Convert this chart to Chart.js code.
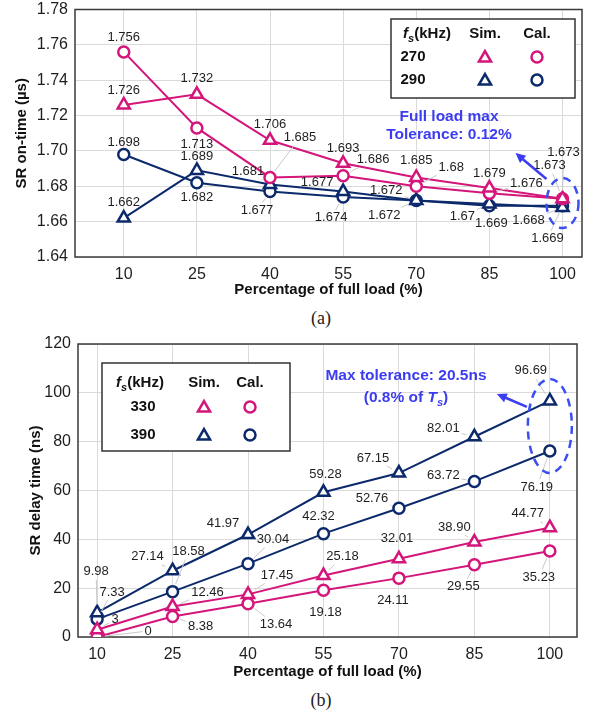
<!DOCTYPE html>
<html>
<head>
<meta charset="utf-8">
<script src="https://cdn.jsdelivr.net/npm/chart.js@4.4.0/dist/chart.umd.min.js"></script>
<style>
  body { margin: 0; background: #fff; width: 597px; height: 715px; position: relative; overflow: hidden; }
  canvas { position: absolute; left: 0; }
  .cap { position: absolute; left: 0; width: 642px; text-align: center; line-height: 20px;
         font: 18px "Liberation Serif", "Times New Roman", serif; color: #222; }
</style>
</head>
<body>
<canvas id="onTime" width="597" height="300" style="top:0"></canvas>
<div class="cap" style="top:308px">(a)</div>
<canvas id="delay" width="597" height="355" style="top:330px"></canvas>
<div class="cap" style="top:690px">(b)</div>

<script>
const FAMILY = '"Liberation Sans", Arial, sans-serif';
const magenta = '#d4157a';
const navy = '#0c2a6b';
const noteBlue = '#3c3cf0';

// load points shared by both plots
const loadPct = [10, 25, 40, 55, 70, 85, 100];

// (a) SR on-time in µs
const onTimeTicks = [1.64, 1.66, 1.68, 1.70, 1.72, 1.74, 1.76, 1.78];
const onSim270 = [1.726, 1.732, 1.706, 1.693, 1.685, 1.679, 1.673];
const onCal270 = [1.756, 1.713, 1.685, 1.686, 1.68, 1.676, 1.673];
const onSim290 = [1.662, 1.689, 1.681, 1.677, 1.672, 1.67, 1.668];
const onCal290 = [1.698, 1.682, 1.677, 1.674, 1.672, 1.669, 1.669];

// (b) SR delay time in ns
const delayTicks = [0, 20, 40, 60, 80, 100, 120];
const dlSim330 = [3, 12.46, 17.45, 25.18, 32.01, 38.90, 44.77];
const dlCal330 = [0, 8.38, 13.64, 19.18, 24.11, 29.55, 35.23];
const dlSim390 = [9.98, 27.14, 41.97, 59.28, 67.15, 82.01, 96.69];
const dlCal390 = [7.33, 18.58, 30.04, 42.32, 52.76, 63.72, 76.19];

// value label placement relative to each marker, px
const offSim270 = [[0,-15],[0,-16],[0,-16],[0,-15],[0,-17],[0,-15],[1,-46]];
const offCal270 = [[0,-15],[0,16],[30,-40],[30,-16],[35,-19],[37,-10],[-13,-33]];
const offSim290 = [[0,-16],[0,-14],[-22,-13],[-26,-9],[-30,-10],[-27,12],[-34,13]];
const offCal290 = [[0,-12],[0,15],[-13,19],[-12,21],[-32,15],[2,18],[-15,33]];

const offSim330 = [[18,-10],[35,-14],[29,-19],[19,-19],[-2,-20],[-20,-15],[-22,-14]];
const offCal330 = [[51,-6],[28,10],[28,21],[2,22],[-6,22],[-11,22],[-11,26]];
const offSim390 = [[-1,-41],[-25,-14],[-25,-11],[2,-18],[-26,-15],[-31,-8],[-19,-30]];
const offCal390 = [[15,-27],[16,-40],[25,-24],[-5,-17],[-27,-10],[-31,-6],[-13,36]];

const fmtOnTime = v => String(v);
const fmtDelay = v => Number.isInteger(v) ? String(v) : v.toFixed(2);

function series(label, values, color, style, offsets, fmt) {
  return {
    label,
    data: loadPct.map((x, i) => ({ x, y: values[i] })),
    borderColor: color,
    borderWidth: 2,
    pointStyle: style,
    pointRadius: style === 'triangle' ? 7 : 5.5,
    pointBorderWidth: 2.5,
    pointBorderColor: color,
    pointBackgroundColor: '#fff',
    labelOffsets: offsets,
    labelFormat: fmt
  };
}

function drawMarker(ctx, style, x, y, color) {
  ctx.beginPath();
  if (style === 'triangle') {
    const r = 7;
    let a = 0;
    ctx.moveTo(x + Math.sin(a) * r, y - Math.cos(a) * r);
    a += Math.PI * 2 / 3;
    ctx.lineTo(x + Math.sin(a) * r, y - Math.cos(a) * r);
    a += Math.PI * 2 / 3;
    ctx.lineTo(x + Math.sin(a) * r, y - Math.cos(a) * r);
    ctx.closePath();
  } else {
    ctx.arc(x, y, 5.5, 0, Math.PI * 2);
  }
  ctx.fillStyle = '#fff';
  ctx.fill();
  ctx.strokeStyle = color;
  ctx.lineWidth = 2.5;
  ctx.stroke();
}

// text made of runs: plain, italic, italic subscript
function drawRich(ctx, parts, cx, cy, size, color) {
  const fontOf = p => (p.i || p.sub ? 'italic ' : '') + 'bold ' + (p.sub ? Math.round(size * 0.72) : size) + 'px ' + FAMILY;
  const widths = parts.map(p => { ctx.font = fontOf(p); return ctx.measureText(p.t).width; });
  let x = cx - widths.reduce((a, b) => a + b, 0) / 2;
  ctx.textAlign = 'left';
  ctx.textBaseline = 'middle';
  ctx.fillStyle = color;
  parts.forEach((p, k) => {
    ctx.font = fontOf(p);
    ctx.fillText(p.t, x, cy + (p.sub ? size * 0.3 : 0));
    x += widths[k];
  });
}

function drawArrow(ctx, x1, y1, x2, y2, color) {
  const ang = Math.atan2(y2 - y1, x2 - x1), head = 11;
  ctx.strokeStyle = color;
  ctx.lineWidth = 2.5;
  ctx.beginPath();
  ctx.moveTo(x1, y1);
  ctx.lineTo(x2 - Math.cos(ang) * head * 0.7, y2 - Math.sin(ang) * head * 0.7);
  ctx.stroke();
  ctx.beginPath();
  ctx.moveTo(x2, y2);
  ctx.lineTo(x2 - head * Math.cos(ang - 0.45), y2 - head * Math.sin(ang - 0.45));
  ctx.lineTo(x2 - head * Math.cos(ang + 0.45), y2 - head * Math.sin(ang + 0.45));
  ctx.closePath();
  ctx.fillStyle = color;
  ctx.fill();
}

// box around the plotting area
const plotFrame = {
  id: 'plotFrame',
  beforeDatasetsDraw(chart) {
    const { ctx, chartArea: a } = chart;
    ctx.save();
    ctx.strokeStyle = '#3a3a3a';
    ctx.lineWidth = 1.5;
    ctx.strokeRect(a.left, a.top, a.right - a.left, a.bottom - a.top);
    ctx.restore();
  }
};

// numbers next to every marker, with a thin leader line when set apart
const valueLabels = {
  id: 'valueLabels',
  afterDatasetsDraw(chart) {
    const ctx = chart.ctx;
    ctx.save();
    ctx.font = '13px ' + FAMILY;
    ctx.textAlign = 'center';
    ctx.textBaseline = 'middle';
    chart.data.datasets.forEach((ds, di) => {
      chart.getDatasetMeta(di).data.forEach((pt, i) => {
        const [dx, dy] = ds.labelOffsets[i];
        const text = ds.labelFormat(ds.data[i].y);
        const lx = pt.x + dx, ly = pt.y + dy;
        const dist = Math.hypot(dx, dy);
        if (Math.abs(dx) > 10 || dist > 26) {
          const hw = ctx.measureText(text).width / 2 + 2, hh = 8;
          const t = Math.min(dx ? hw / Math.abs(dx) : Infinity, dy ? hh / Math.abs(dy) : Infinity);
          const len = (1 - t) * dist;
          if (len > 8) {
            ctx.beginPath();
            ctx.moveTo(pt.x + dx / dist * 8, pt.y + dy / dist * 8);
            ctx.lineTo(lx - dx * t, ly - dy * t);
            ctx.strokeStyle = '#c8c8c8';
            ctx.lineWidth = 1;
            ctx.stroke();
          }
        }
        ctx.fillStyle = '#1e1e1e';
        ctx.fillText(text, lx, ly);
      });
    });
    ctx.restore();
  }
};

// frequency / marker key plus the tolerance call-out
function notesPlugin(cfg) {
  return {
    id: 'notes',
    afterDraw(chart) {
      const ctx = chart.ctx;
      const [x0, y0, x1, y1] = cfg.box;
      ctx.save();
      ctx.fillStyle = '#fff';
      ctx.fillRect(x0, y0, x1 - x0, y1 - y0);
      ctx.strokeStyle = '#333';
      ctx.lineWidth = 1.5;
      ctx.strokeRect(x0, y0, x1 - x0, y1 - y0);

      drawRich(ctx, [{ t: 'f', i: true }, { t: 's', sub: true }, { t: '(kHz)' }], cfg.colX[0], cfg.head, 15, '#111');
      drawRich(ctx, [{ t: 'Sim.' }], cfg.colX[1], cfg.head, 15, '#111');
      drawRich(ctx, [{ t: 'Cal.' }], cfg.colX[2], cfg.head, 15, '#111');
      cfg.freqs.forEach((f, k) => {
        const y = cfg.rows[k];
        const c = k === 0 ? magenta : navy;
        drawRich(ctx, [{ t: f }], cfg.numX, y, 15, '#111');
        drawMarker(ctx, 'triangle', cfg.colX[1], y + 1, c);
        drawMarker(ctx, 'circle', cfg.colX[2], y, c);
      });

      // dashed ring round the full-load points
      const xs = chart.scales.x, ys = chart.scales.y;
      const cx = xs.getPixelForValue(100);
      const cy = ys.getPixelForValue((cfg.ringLo + cfg.ringHi) / 2);
      ctx.beginPath();
      ctx.ellipse(cx, cy, cfg.ring[0], cfg.ring[1], 0, 0, Math.PI * 2);
      ctx.setLineDash([8, 6]);
      ctx.strokeStyle = '#3a4ef2';
      ctx.lineWidth = 2.5;
      ctx.stroke();
      ctx.setLineDash([]);

      drawArrow(ctx, cx + cfg.arrow[0], cy + cfg.arrow[1], cx + cfg.arrow[2], cy + cfg.arrow[3], noteBlue);
      cfg.note.forEach(line => drawRich(ctx, line.parts, cfg.noteX, line.y, 15.5, noteBlue));
      ctx.restore();
    }
  };
}

function axes(o) {
  const tickFont = { size: 16, family: FAMILY };
  const titleFont = { size: 15, weight: 'bold', family: FAMILY };
  return {
    x: {
      type: 'linear', min: o.xMin, max: o.xMax,
      afterBuildTicks: s => { s.ticks = loadPct.map(v => ({ value: v })); },
      afterFit: s => { s.height = o.xHeight; s.paddingLeft = 0; s.paddingRight = 0; },
      grid: { color: '#dadada', drawTicks: false },
      border: { display: false },
      ticks: { padding: 8, color: '#1e1e1e', font: tickFont, callback: v => String(v) },
      title: { display: true, text: 'Percentage of full load (%)', color: '#111', font: titleFont, padding: { top: 0, bottom: o.xTitlePad } }
    },
    y: {
      min: o.yTicks[0], max: o.yTicks[o.yTicks.length - 1],
      afterBuildTicks: s => { s.ticks = o.yTicks.map(v => ({ value: v })); },
      afterFit: s => { s.width = o.yWidth; s.paddingTop = 0; s.paddingBottom = 0; },
      grid: { color: '#dadada', drawTicks: false },
      border: { display: false },
      ticks: { padding: 7, color: '#1e1e1e', font: tickFont, callback: o.yFmt },
      title: { display: true, text: o.yTitle, color: '#111', font: titleFont, padding: { top: o.yTitlePad, bottom: 0 } }
    }
  };
}

function baseOptions(o) {
  return {
    responsive: false,
    animation: false,
    layout: { padding: { top: o.top, right: o.right, left: 0, bottom: 0 } },
    plugins: { legend: { display: false }, tooltip: { enabled: false } },
    scales: axes(o)
  };
}

new Chart(document.getElementById('onTime'), {
  type: 'line',
  data: {
    datasets: [
      series('270 Sim.', onSim270, magenta, 'triangle', offSim270, fmtOnTime),
      series('270 Cal.', onCal270, magenta, 'circle', offCal270, fmtOnTime),
      series('290 Sim.', onSim290, navy, 'triangle', offSim290, fmtOnTime),
      series('290 Cal.', onCal290, navy, 'circle', offCal290, fmtOnTime)
    ]
  },
  options: baseOptions({
    top: 7, right: 15, xMin: 0, xMax: 104, xHeight: 43, xTitlePad: 1,
    yTicks: onTimeTicks, yWidth: 75, yTitlePad: 13, yTitle: 'SR on-time (µs)',
    yFmt: v => v.toFixed(2)
  }),
  plugins: [plotFrame, valueLabels, notesPlugin({
    box: [391, 19, 575, 98], head: 34, rows: [57, 80], colX: [427, 485, 537], numX: 413,
    freqs: ['270', '290'],
    ringLo: Math.min(onSim290[6], onCal290[6]), ringHi: Math.max(onSim270[6], onCal270[6]),
    ring: [16, 25], arrow: [-16, -24, -47, -50],
    noteX: 449,
    note: [
      { y: 117, parts: [{ t: 'Full load max' }] },
      { y: 135, parts: [{ t: 'Tolerance: 0.12%' }] }
    ]
  })]
});

new Chart(document.getElementById('delay'), {
  type: 'line',
  data: {
    datasets: [
      series('330 Sim.', dlSim330, magenta, 'triangle', offSim330, fmtDelay),
      series('330 Cal.', dlCal330, magenta, 'circle', offCal330, fmtDelay),
      series('390 Sim.', dlSim390, navy, 'triangle', offSim390, fmtDelay),
      series('390 Cal.', dlCal390, navy, 'circle', offCal390, fmtDelay)
    ]
  },
  options: baseOptions({
    top: 14, right: 20, xMin: 6.2, xMax: 105.4, xHeight: 48, xTitlePad: 4,
    yTicks: delayTicks, yWidth: 78, yTitlePad: 27, yTitle: 'SR delay time (ns)',
    yFmt: v => String(v)
  }),
  plugins: [plotFrame, valueLabels, notesPlugin({
    box: [102, 33, 290, 121], head: 53, rows: [77, 105], colX: [140, 204, 250], numX: 143,
    freqs: ['330', '390'],
    ringLo: dlCal390[6], ringHi: dlSim390[6],
    ring: [22, 47], arrow: [-23, -19, -53, -32],
    noteX: 406,
    note: [
      { y: 46, parts: [{ t: 'Max tolerance: 20.5ns' }] },
      { y: 68, parts: [{ t: '(0.8% of ' }, { t: 'T', i: true }, { t: 's', sub: true }, { t: ')' }] }
    ]
  })]
});
</script>
</body>
</html>
